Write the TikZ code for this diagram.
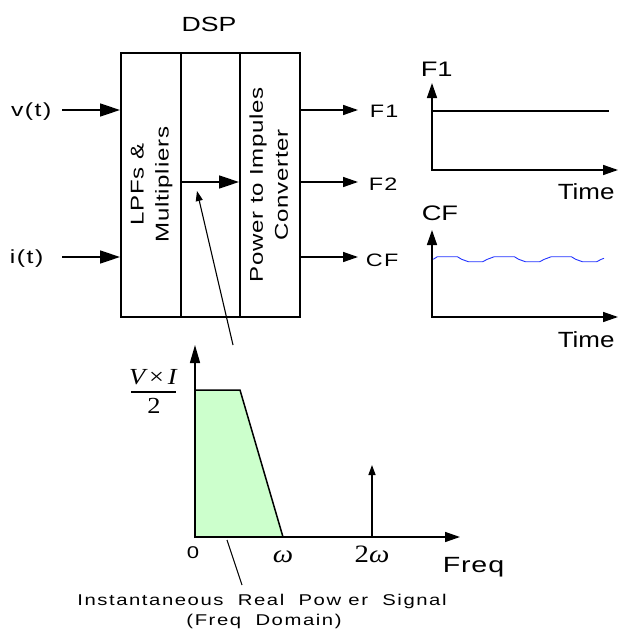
\documentclass[tikz,border=0pt]{standalone}
\usepackage{fontspec}
\setmainfont{Liberation Sans}[FakeStretch=1.3]
\newfontfamily\serifW{Liberation Serif}[FakeStretch=1.15]
\newfontfamily\sA{Liberation Sans}[FakeStretch=1.3,LetterSpace=8]
\newfontfamily\sB{Liberation Sans}[FakeStretch=1.3,LetterSpace=4]
\newfontfamily\sC{Liberation Sans}[FakeStretch=1.3,LetterSpace=10]
\newfontfamily\sT{Liberation Sans}[FakeStretch=1.18]
\usetikzlibrary{arrows.meta}
\definecolor{lgreen}{HTML}{CCFFCC}
\definecolor{wave}{HTML}{2233FF}
\begin{document}
\begin{tikzpicture}[x=1pt,y=-1pt,line width=1.5pt,
  col/.style={draw,minimum height=264pt,inner sep=0pt,anchor=north west},
  lbl/.style={inner sep=0pt,font={\sA\fontsize{18}{25}\selectfont}},
  rlbl/.style={inner sep=0pt,font={\sB\fontsize{18.5}{25}\selectfont}},
  big/.style={inner sep=0pt,font={\fontsize{21}{26}\selectfont}},
  timelbl/.style={inner sep=0pt,font={\sT\fontsize{22}{26}\selectfont}},
  small/.style={inner sep=0pt,font={\sC\fontsize{15.6}{20}\selectfont}},
  mth/.style={inner sep=0pt,font={\serifW\fontsize{23}{26}\selectfont}},
  inarrow/.style={-{Triangle[length=20pt,width=13pt]}},
  outarrow/.style={-{Triangle[length=15pt,width=10pt]}},
  axarrow/.style={-{Triangle[length=15pt,width=10pt]}},
  thinarrow/.style={line width=1.1pt,-{Triangle[length=10pt,width=7pt]}}]
\useasboundingbox (0,0) rectangle (619,637);

% DSP block
\node[big,anchor=base,font={\fontsize{20.5}{24}\selectfont}] (dsp) at (209,31) {DSP};
\node[col,minimum width=60pt] (lpf) at (120,52) {};
\node[col,minimum width=59pt] (mid) at (180,52) {};
\node[col,minimum width=60pt] (ppc) at (239,52) {};
\node[rlbl,rotate=90,align=center] (lpft) at ([xshift=1pt]lpf.center) {LPFs \&\\Multipliers};
\node[rlbl,rotate=90,align=center] (ppct) at ([xshift=-1pt]ppc.center) {Power to Impules\\Converter};

% inputs
\node[lbl,anchor=base east,font={\sA\fontsize{19}{24}\selectfont}] (vt) at (52,116) {v(t)};
\node[lbl,anchor=base east,font={\sA\fontsize{19}{24}\selectfont}] (it) at (44,263) {i(t)};
\coordinate (vin) at (62,110);
\coordinate (iin) at (62,257);
\draw[inarrow] (vin) -- (vin -| lpf.west);
\draw[inarrow] (iin) -- (iin -| lpf.west);

% middle arrow
\coordinate (mstart) at (180,182);
\draw[inarrow] (mstart) -- (mstart -| ppc.west);

% outputs
\node[lbl,anchor=base west] (f1) at (369,117) {F1};
\node[lbl,anchor=base west] (f2) at (368,190) {F2};
\node[lbl,anchor=base west] (cf) at (365,266) {CF};
\coordinate (o1) at (358,110);
\coordinate (o2) at (358,182);
\coordinate (o3) at (358,257);
\draw[outarrow] (o1 -| ppc.east) -- (o1);
\draw[outarrow] (o2 -| ppc.east) -- (o2);
\draw[outarrow] (o3 -| ppc.east) -- (o3);

% F1 time plot
\node[big,anchor=base west] (f1l) at (420,76) {F1};
\draw[axarrow] (432,170) -- (432,83);
\draw[axarrow] (431,170) -- (618,170);
\draw (432,111) -- (609,111);
\node[timelbl,anchor=base west] (t1) at (557,199) {Time};

% CF time plot
\node[big,anchor=base west] (cfl) at (421,220) {CF};
\draw[axarrow] (432,317) -- (432,230);
\draw[axarrow] (431,317) -- (618,317);
\draw[wave,line width=0.9pt] (433.3,259.3) -- (437.3,256.7)
  -- (457.3,256.7) -- (461.7,259.3) -- (468.3,261.7) -- (482.7,261.7) -- (487.3,259.3)
  -- (494.3,256.7) -- (514.3,256.7) -- (518.7,259.3) -- (525.3,261.7) -- (539.7,261.7) -- (544.3,259.3)
  -- (551.3,256.7) -- (571.3,256.7) -- (575.7,259.3) -- (582.3,261.7) -- (596.7,261.7) -- (601.3,259.3)
  -- (604,258.3);
\node[timelbl,anchor=base west] (t2) at (557,347) {Time};

% frequency plot
\fill[lgreen] (195,537) -- (195,390) -- (240,390) -- (283,537) -- cycle;
\draw (195,390) -- (240,390) -- (283,537);
\draw[-{Triangle[length=18pt,width=10pt]}] (195,538) -- (195,345);
\draw[axarrow] (194,537) -- (460,537);
\draw[line width=1.4pt,-{Triangle[length=10pt,width=7pt]}] (372,537) -- (372,465);
\node[mth,anchor=base] (vi) at (153,384) {\itshape V\,{\upshape ×}\,I};
\draw (131,392) -- (176,392);
\node[mth,anchor=base] (two) at (154,413) {2};
\node[inner sep=0pt,anchor=base,font={\fontsize{17}{20}\selectfont}] (zero) at (193,558) {0};
\node[mth,anchor=base,font={\serifW\fontsize{25}{28}\selectfont}] (w1) at (283,562) {\itshape ω};
\node[mth,anchor=base,font={\serifW\fontsize{25}{28}\selectfont}] (w2) at (372,562) {2\itshape ω};
\node[anchor=base west,inner sep=0pt,font={\sB\fontsize{22}{26}\selectfont}] (freq) at (442,572) {Freq};

% caption
\node[small,anchor=base] (cap1) at (262,605) {Instantaneous\ \ Real\ \ Pow er\ \ Signal};
\node[small,anchor=base] (cap2) at (264,625) {(Freq\ \ Domain)};
\coordinate (c1) at (242,585);
\coordinate (c2) at (227,540);
\draw[line width=1.1pt] (c1) -- (c2);

% pointer to middle stage
\coordinate (pstart) at (233,345);
\coordinate (ptip) at (197,191);
\draw[thinarrow] (pstart) -- (ptip);
\end{tikzpicture}
\end{document}
